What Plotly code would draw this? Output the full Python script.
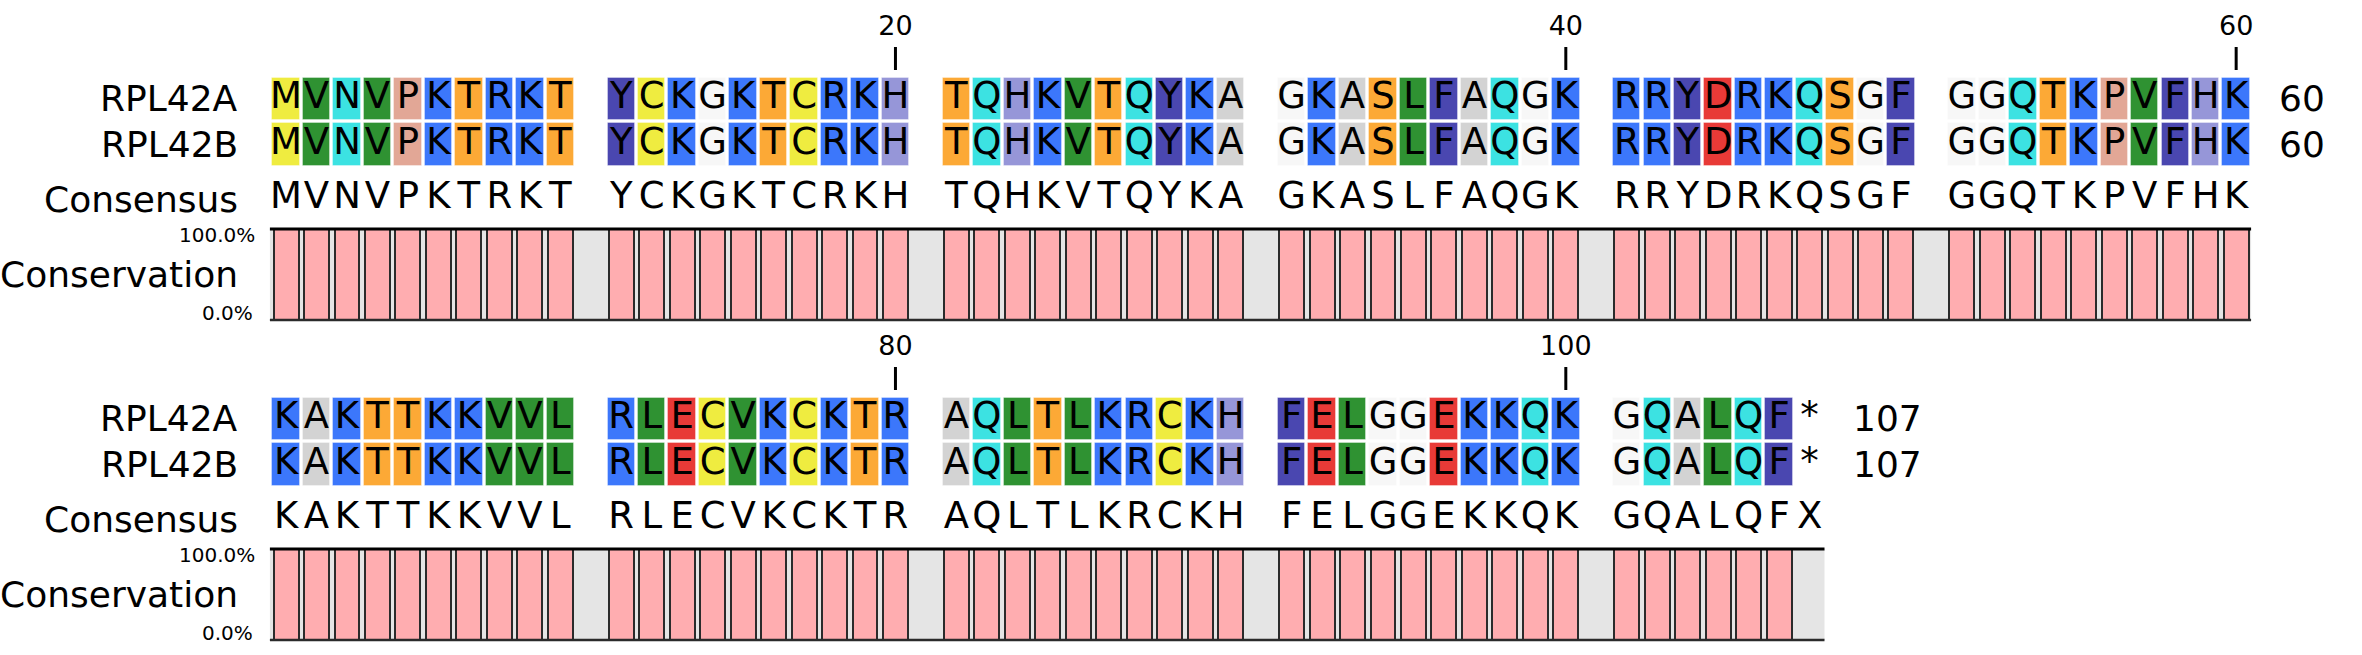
import plotly.graph_objects as go

# alignment data
names = ["RPL42A", "RPL42B"]
seqs = [
    "MVNVPKTRKTYCKGKTCRKHTQHKVTQYKAGKASLFAQGKRRYDRKQSGFGGQTKPVFHK"
    "KAKTTKKVVLRLECVKCKTRAQLTLKRCKHFELGGEKKQKGQALQF*",
    "MVNVPKTRKTYCKGKTCRKHTQHKVTQYKAGKASLFAQGKRRYDRKQSGFGGQTKPVFHK"
    "KAKTTKKVVLRLECVKCKTRAQLTLKRCKHFELGGEKKQKGQALQF*",
]
consensus = ("MVNVPKTRKTYCKGKTCRKHTQHKVTQYKAGKASLFAQGKRRYDRKQSGFGGQTKPVFHK"
             "KAKTTKKVVLRLECVKCKTRAQLTLKRCKHFELGGEKKQKGQALQFX")
ruler_ticks = [20, 40, 60, 80, 100]
per_line = 60
block = 10

# residue colours
colors = {
    "M": "#efec40", "C": "#efec40",
    "V": "#2f9232", "L": "#2f9232", "I": "#2f9232",
    "N": "#3ce2e2", "Q": "#3ce2e2",
    "P": "#e2a796",
    "K": "#3c77fb", "R": "#3c77fb",
    "T": "#fca936", "S": "#fca936",
    "Y": "#4a47b0", "F": "#4a47b0", "W": "#4a47b0",
    "G": "#f7f7f7",
    "H": "#9696d8",
    "A": "#d3d3d3",
    "D": "#e83a37", "E": "#e83a37",
}

# conservation = % of sequences matching the consensus at each position
cons_pct = []
for i, c in enumerate(consensus):
    n = sum(1 for s in seqs if s[i] == c)
    cons_pct.append(100.0 * n / len(seqs))

FONT = "DejaVu Sans"
W, H = 2362, 655
LINE_H = 320          # vertical pixels per wrapped line
ROW_TOP = [77.6, 123.4]
CELL_H = 42.6
CONS_Y = 199
TICK_LBL_Y = 28
TICK_Y = [47, 70]
TRACK = [229, 320]    # conservation track top / bottom (px)


def col_of(p):
    # position inside a line -> column (one blank column after each block)
    return p + p // block


n_lines = (len(consensus) + per_line - 1) // per_line

fig = go.Figure()
shapes = []
annotations = []

for L in range(n_lines):
    lo, hi = L * per_line, min((L + 1) * per_line, len(consensus))
    idx = list(range(lo, hi))
    cols = [col_of(i - lo) for i in idx]
    off = L * LINE_H
    yax = "y%d" % (L + 2)

    for r, s in enumerate(seqs):
        cx = [c for c, i in zip(cols, idx) if s[i] in colors]
        cc = [colors[s[i]] for i in idx if s[i] in colors]
        fig.add_trace(go.Bar(
            x=cx, y=[CELL_H] * len(cx), base=ROW_TOP[r] + off, width=0.9,
            marker=dict(color=cc, line=dict(width=1, color="rgba(255,255,255,0.35)")),
            yaxis="y", hoverinfo="skip", showlegend=False))
        fig.add_trace(go.Scatter(
            x=cols, y=[ROW_TOP[r] + off + CELL_H / 2] * len(cols),
            text=[s[i] for i in idx], mode="text", textposition="middle center",
            textfont=dict(family=FONT, size=37, color="black"),
            yaxis="y", cliponaxis=False, hoverinfo="skip", showlegend=False))
        end_num = min(hi, len(s))
        annotations.append(dict(
            x=cols[-1] + 1.35, y=ROW_TOP[r] + off + CELL_H / 2, xref="x", yref="y",
            text=str(end_num), showarrow=False, xanchor="left", yanchor="middle",
            font=dict(family=FONT, size=36, color="black")))
        annotations.append(dict(
            x=-1.51, y=ROW_TOP[r] + off + CELL_H / 2, xref="x", yref="y",
            text=names[r], showarrow=False, xanchor="right", yanchor="middle",
            font=dict(family=FONT, size=36, color="black")))

    # consensus row
    fig.add_trace(go.Scatter(
        x=cols, y=[CONS_Y + off] * len(cols), text=[consensus[i] for i in idx],
        mode="text", textposition="middle center",
        textfont=dict(family=FONT, size=37, color="black"),
        yaxis="y", cliponaxis=False, hoverinfo="skip", showlegend=False))
    annotations.append(dict(
        x=-1.51, y=CONS_Y + off, xref="x", yref="y", text="Consensus",
        showarrow=False, xanchor="right", yanchor="middle",
        font=dict(family=FONT, size=36, color="black")))

    # ruler ticks
    for t in ruler_ticks:
        if lo < t <= hi:
            tx = col_of(t - 1 - lo)
            fig.add_trace(go.Scatter(
                x=[tx, tx], y=[TICK_Y[0] + off, TICK_Y[1] + off], mode="lines",
                line=dict(color="black", width=3), yaxis="y",
                hoverinfo="skip", showlegend=False))
            fig.add_trace(go.Scatter(
                x=[tx], y=[TICK_LBL_Y + off], text=[str(t)], mode="text",
                textposition="middle center",
                textfont=dict(family=FONT, size=27, color="black"),
                yaxis="y", cliponaxis=False, hoverinfo="skip", showlegend=False))

    # conservation track
    pct = [cons_pct[i] if cons_pct[i] > 0 else None for i in idx]
    shapes.append(dict(type="rect", xref="x", yref=yax + " domain",
                       x0=cols[0] - 0.53, x1=cols[-1] + 0.49, y0=0, y1=1,
                       fillcolor="#e5e5e5", line=dict(width=0), layer="below"))
    fig.add_trace(go.Bar(
        x=cols, y=pct, width=0.82, yaxis=yax,
        marker=dict(color="#ffadb0", line=dict(color="#2b2b2b", width=2)),
        hoverinfo="skip", showlegend=False))
    shapes.append(dict(type="line", xref="x", yref=yax + " domain",
                       x0=cols[0] - 0.53, x1=cols[-1] + 0.49, y0=1, y1=1,
                       line=dict(color="black", width=3), layer="above"))
    shapes.append(dict(type="line", xref="x", yref=yax + " domain",
                       x0=cols[0] - 0.53, x1=cols[-1] + 0.49, y0=0, y1=0,
                       line=dict(color="#2b2b2b", width=2.5), layer="above"))
    annotations.append(dict(
        x=-0.95, y=1, xref="x", yref=yax + " domain", text="100.0%",
        showarrow=False, xanchor="right", yanchor="middle", yshift=-6,
        font=dict(family=FONT, size=20, color="black")))
    annotations.append(dict(
        x=-1.02, y=0, xref="x", yref=yax + " domain", text="0.0%",
        showarrow=False, xanchor="right", yanchor="middle", yshift=7,
        font=dict(family=FONT, size=20, color="black")))
    annotations.append(dict(
        x=-1.51, y=0.5, xref="x", yref=yax + " domain", text="Conservation",
        showarrow=False, xanchor="right", yanchor="middle",
        font=dict(family=FONT, size=36, color="black")))

hidden = dict(visible=False, showgrid=False, zeroline=False, fixedrange=True)
layout = dict(
    width=W, height=H, margin=dict(l=0, r=0, t=0, b=0),
    paper_bgcolor="white", plot_bgcolor="rgba(0,0,0,0)",
    barmode="overlay", bargap=0,
    xaxis=dict(range=[-9.388, 68.13], domain=[0, 1], **hidden),
    yaxis=dict(range=[H, 0], domain=[0, 1], **hidden),
    shapes=shapes, annotations=annotations,
)
for L in range(n_lines):
    top = TRACK[0] + L * LINE_H
    bot = TRACK[1] + L * LINE_H
    layout["yaxis%d" % (L + 2)] = dict(
        range=[0, 100], domain=[1 - bot / H, 1 - top / H],
        anchor="x", **hidden)
fig.update_layout(**layout)

# drop the default page margin so the figure sits at the window's corner
fig.write_html("out.html", config=dict(displayModeBar=False),
               post_script="document.body.style.margin='0px';")
